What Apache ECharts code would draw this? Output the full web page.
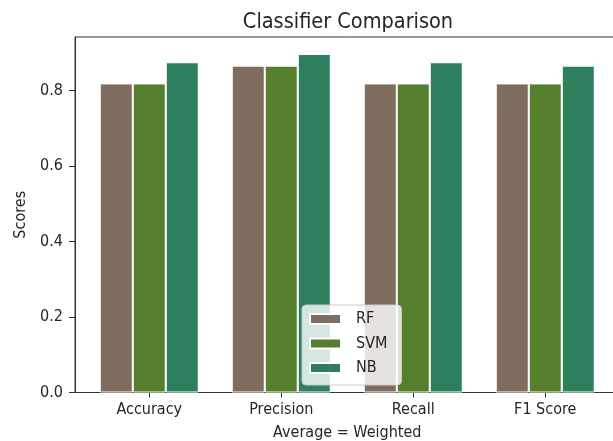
<!DOCTYPE html>
<html>
<head>
<meta charset="utf-8">
<script src="https://cdn.jsdelivr.net/npm/echarts@6/dist/echarts.min.js"></script>
<style>
  html, body { margin: 0; padding: 0; background: #fff; }
  #chart { width: 613px; height: 441px; }
</style>
</head>
<body>
<div id="chart"></div>
<script>
// 数据
var categories = ['Accuracy', 'Precision', 'Recall', 'F1 Score'];
var seriesNames = ['RF', 'SVM', 'NB'];
var rfScores = [0.819, 0.866, 0.819, 0.819];
var svmScores = [0.819, 0.866, 0.819, 0.819];
var nbScores = [0.875, 0.897, 0.875, 0.866];
var yTicks = [0, 0.2, 0.4, 0.6, 0.8];
var colors = ['#7f6d5f', '#557f2d', '#2d7f5e'];

var font = '"DejaVu Sans Condensed", "DejaVu Sans", sans-serif';

// 类别位置 0,1,2,3 放在数值轴上
function toPairs(arr) {
    var out = [];
    for (var i = 0; i < arr.length; i++) {
        out.push([i, arr[i]]);
    }
    return out;
}
var xPos = [];
for (var i = 0; i < categories.length; i++) {
    xPos.push(i);
}

var myChart = echarts.init(document.getElementById('chart'));

var barStyle = function (name, idx, arr) {
    return {
        name: name,
        type: 'bar',
        barWidth: 33,
        barGap: '0%',
        itemStyle: {
            color: colors[idx],
            borderColor: '#ffffff',
            borderWidth: 1
        },
        data: toPairs(arr)
    };
};

var option = {
    animation: false,
    title: {
        text: 'Classifier Comparison',
        left: 343,
        textAlign: 'center',
        top: 6,
        textStyle: {
            fontFamily: font,
            fontSize: 21.5,
            fontWeight: 'normal',
            color: '#262626'
        }
    },
    grid: {
        left: 75,
        top: 37,
        right: -6.5,
        bottom: 48.5,
        outerBoundsMode: 'none',
        show: true,
        borderColor: '#333',
        borderWidth: 1,
        backgroundColor: 'transparent'
    },
    legend: {
        orient: 'vertical',
        left: 302,
        top: 305,
        data: seriesNames,
        icon: 'rect',
        itemWidth: 31,
        itemHeight: 10,
        itemGap: 8.5,
        padding: [6, 14, 9, 7],
        backgroundColor: 'rgba(255,255,255,0.8)',
        borderColor: '#cccccc',
        borderWidth: 1,
        borderRadius: 4,
        textStyle: {
            fontFamily: font,
            fontSize: 16,
            color: '#262626',
            padding: [0, 0, 0, 10]
        }
    },
    xAxis: {
        type: 'value',
        min: -0.5625,
        max: 3.5625,
        name: 'Average = Weighted',
        nameLocation: 'middle',
        nameGap: 32,
        nameTextStyle: {
            fontFamily: font,
            fontSize: 16,
            color: '#262626',
            verticalAlign: 'top'
        },
        splitLine: { show: false },
        axisLine: { show: true, onZero: false, lineStyle: { color: '#333', width: 1 } },
        axisTick: {
            show: true,
            length: 5,
            customValues: xPos,
            lineStyle: { color: '#333' }
        },
        axisLabel: {
            customValues: xPos,
            margin: 9,
            fontFamily: font,
            fontSize: 16,
            color: '#262626',
            formatter: function (v) {
                return categories[Math.round(v)];
            }
        }
    },
    yAxis: {
        type: 'value',
        min: 0,
        max: 0.942,
        name: 'Scores',
        nameLocation: 'middle',
        nameRotate: 90,
        nameGap: 45,
        nameTextStyle: {
            fontFamily: font,
            fontSize: 16,
            color: '#262626'
        },
        splitLine: { show: false },
        axisLine: { show: true, onZero: false, lineStyle: { color: '#333', width: 1 } },
        axisTick: {
            show: true,
            length: 6,
            customValues: yTicks,
            lineStyle: { color: '#333' }
        },
        axisLabel: {
            customValues: yTicks,
            margin: 12,
            fontFamily: font,
            fontSize: 16,
            color: '#262626',
            formatter: function (v) {
                return v.toFixed(1);
            }
        }
    },
    series: [
        barStyle(seriesNames[0], 0, rfScores),
        barStyle(seriesNames[1], 1, svmScores),
        barStyle(seriesNames[2], 2, nbScores)
    ]
};

myChart.setOption(option);
</script>
</body>
</html>
